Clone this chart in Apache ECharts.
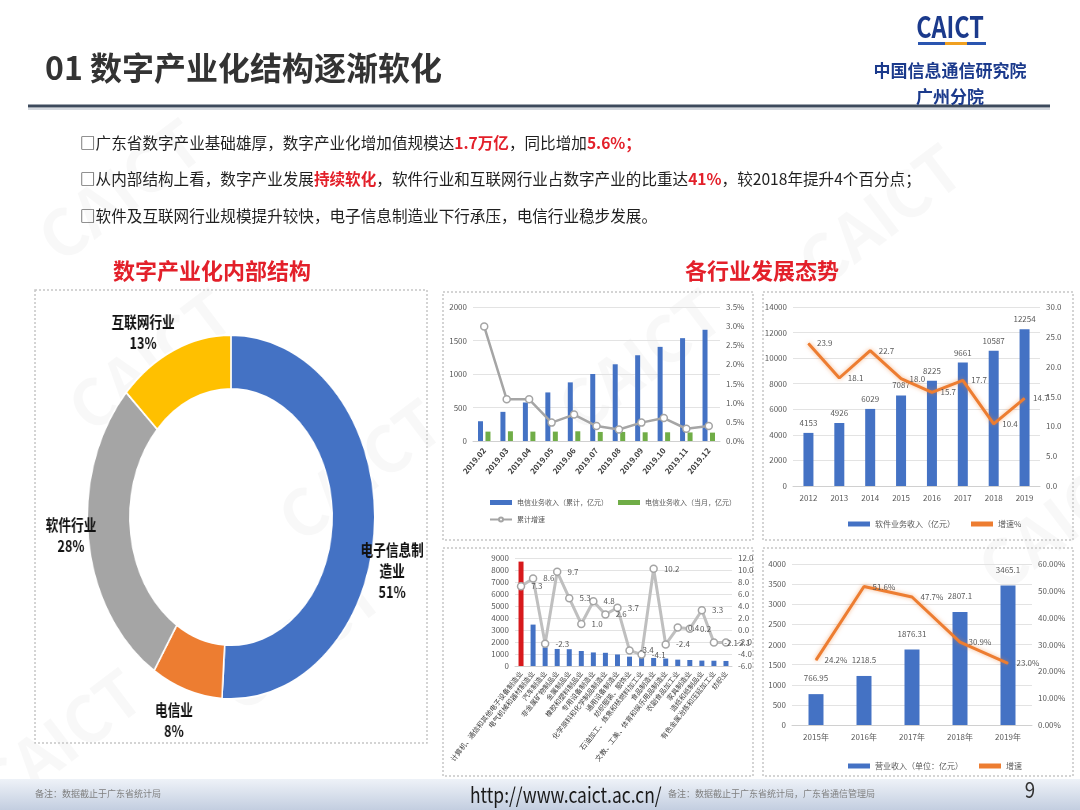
<!DOCTYPE html>
<html>
<head>
<meta charset="utf-8">
<title>01 数字产业化结构逐渐软化</title>
<script src="https://cdn.jsdelivr.net/npm/echarts@6/dist/echarts.min.js"></script>
<style>
  body { margin: 0; background: #fff; }
  #wrap { position: relative; width: 1080px; height: 810px; overflow: hidden; background: #fff; }
  #main { position: absolute; left: 0; top: 0; width: 1080px; height: 810px; }
  /* 原图里圆环被横向压扁了，这里用 scaleX 还原 */
  #pie { position: absolute; left: -69px; top: 290px; width: 600px; height: 452px; transform: scaleX(0.79); transform-origin: 50% 50%; }
</style>
</head>
<body>
<div id="wrap">
  <div id="main"></div>
  <div id="pie"></div>
</div>
<script>
var FONT = '"Noto Sans CJK SC", "Noto Sans", sans-serif'

// 数字产业化内部结构
var donutNames = ['电子信息制造业', '电信业', '软件行业', '互联网行业']
var donutLabels = ['电子信息制\n造业', '电信业', '软件行业', '互联网行业']
var donutValues = [51, 8, 28, 13]
var donutColors = ['#4472C4', '#ED7D31', '#A5A5A5', '#FFC000']

// 电信业务
var telMonths = ['2019.02', '2019.03', '2019.04', '2019.05', '2019.06', '2019.07', '2019.08', '2019.09', '2019.10', '2019.11', '2019.12']
var telCumulative = [295, 435, 575, 725, 875, 1000, 1145, 1280, 1405, 1535, 1660]
var telMonthly = [140, 145, 140, 140, 145, 135, 135, 130, 130, 128, 125]
var telGrowth = [2.99, 1.09, 1.09, 0.48, 0.69, 0.39, 0.30, 0.48, 0.60, 0.32, 0.39]

// 软件业务
var softYears = ['2012', '2013', '2014', '2015', '2016', '2017', '2018', '2019']
var softRevenue = [4153, 4926, 6029, 7087, 8225, 9661, 10587, 12254]
var softGrowth = [23.9, 18.1, 22.7, 18.0, 15.7, 17.7, 10.4, 14.7]

// 制造业分行业
var mfgSectors = ['计算机、通信和其他电子设备制造业', '电气机械和器材制造业', '汽车制造业', '非金属矿物制品业', '金属制品业', '橡胶和塑料制品业', '专用设备制造业', '化学原料和化学制品制造业', '通用设备制造业', '纺织服装、服饰业', '石油加工、炼焦和核燃料加工业', '食品制造业', '文教、工美、体育和娱乐用品制造业', '农副食品加工业', '家具制造业', '造纸和纸制品业', '有色金属冶炼和压延加工业', '纺织业']
var mfgOutput = [8700, 3450, 1560, 1420, 1400, 1250, 1130, 1100, 960, 780, 700, 670, 620, 530, 500, 450, 440, 420]
var mfgGrowth = [7.3, 8.6, -2.3, 9.7, 5.3, 1.0, 4.8, 2.6, 3.7, -3.4, -4.1, 10.2, -2.4, 0.4, 0.2, 3.3, -2.1, -2.1]

// 互联网业务
var netYears = ['2015年', '2016年', '2017年', '2018年', '2019年']
var netRevenue = [766.95, 1218.5, 1876.31, 2807.1, 3465.1]
var netGrowth = [24.2, 51.6, 47.7, 30.9, 23.0]

var splitGray = { lineStyle: { color: '#e3e3e3' } }

function txt(x, y, text, font, fill, align, extra) {
  var el = {
    type: 'text', x: x, y: y, silent: true,
    style: { text: text, font: font, fill: fill, textAlign: align || 'left', textVerticalAlign: 'middle' }
  }
  if (extra) { for (var k in extra) el[k] = extra[k] }
  return el
}

function box(x, y, w, h) {
  return { type: 'rect', silent: true, shape: { x: x, y: y, width: w, height: h },
    style: { fill: 'none', stroke: '#c6c6c6', lineWidth: 1.5, lineDash: [2, 2] } }
}

function catAxis(grid, data, extraLabel) {
  var label = { color: '#595959', fontSize: 8, fontFamily: FONT, interval: 0 }
  if (extraLabel) { for (var k in extraLabel) label[k] = extraLabel[k] }
  return {
    type: 'category', gridIndex: grid, data: data,
    axisTick: { show: false },
    axisLine: { lineStyle: { color: '#d0d0d0' } },
    axisLabel: label
  }
}

function plain(v) { return String(v) }

function valAxis(grid, min, max, step, fmt, right) {
  return {
    type: 'value', gridIndex: grid, min: min, max: max, interval: step,
    position: right ? 'right' : 'left',
    axisLine: { show: false }, axisTick: { show: false },
    splitLine: right ? { show: false } : splitGray,
    axisLabel: { color: '#595959', fontSize: 8, fontFamily: FONT, margin: 6, formatter: fmt || plain }
  }
}

var graphics = []
// 水印
var marks = [[120, 190], [880, 215], [150, 360], [360, 470], [300, 640], [60, 740], [640, 360], [1060, 520]]
marks.forEach(function (m) {
  graphics.push(txt(m[0], m[1], 'CAICT', 'bold 64px ' + FONT, 'rgba(0,0,0,0.028)', 'center', { rotation: 0.65 }))
})

// 标题栏
graphics.push(txt(45, 68, '01 数字产业化结构逐渐软化', 'bold 32px ' + FONT, '#333333'))
graphics.push({ type: 'line', silent: true, shape: { x1: 28, y1: 106, x2: 1050, y2: 106 }, style: { stroke: '#3d4a5c', lineWidth: 3 } })
graphics.push({ type: 'line', silent: true, shape: { x1: 28, y1: 109, x2: 1050, y2: 109 }, style: { stroke: '#d5d9df', lineWidth: 2 } })
graphics.push(txt(950, 27, 'CAICT', 'bold 30px ' + FONT, '#1b3a8c', 'center', { scaleX: 0.78 }))
graphics.push({ type: 'rect', silent: true, shape: { x: 918, y: 42, width: 68, height: 3 }, style: { fill: '#2a55b0' } })
graphics.push({ type: 'rect', silent: true, shape: { x: 945, y: 42, width: 22, height: 3 }, style: { fill: '#f0a020' } })
graphics.push(txt(950, 71, '中国信息通信研究院', 'bold 17px ' + FONT, '#1b3a8c', 'center'))
graphics.push(txt(950, 97, '广州分院', 'bold 17px ' + FONT, '#1b3a8c', 'center'))

// 要点
var nStyle = { fontSize: 15.6, fontFamily: FONT, fill: '#1f1f1f' }
var rStyle = { fontSize: 15.6, fontFamily: FONT, fill: '#e3202a', fontWeight: 'bold' }
var bullets = [
  '{n|□广东省数字产业基础雄厚，数字产业化增加值规模达}{r|1.7万亿}{n|，同比增加}{r|5.6%；}',
  '{n|□从内部结构上看，数字产业发展}{r|持续软化}{n|，软件行业和互联网行业占数字产业的比重达}{r|41%}{n|，较2018年提升4个百分点；}',
  '{n|□软件及互联网行业规模提升较快，电子信息制造业下行承压，电信行业稳步发展。}'
]
bullets.forEach(function (b, i) {
  graphics.push({ type: 'text', x: 80, y: 143 + i * 36.5, silent: true,
    style: { text: b, textVerticalAlign: 'middle', rich: { n: nStyle, r: rStyle } } })
})

// 小标题
graphics.push(txt(212, 271, '数字产业化内部结构', 'bold 22px ' + FONT, '#e3202a', 'center'))
graphics.push(txt(762, 271, '各行业发展态势', 'bold 22px ' + FONT, '#e3202a', 'center'))

// 面板虚线框
graphics.push(box(35, 290, 392, 453))
graphics.push(box(443, 292, 310, 248))
graphics.push(box(763, 292, 310, 248))
graphics.push(box(443, 548, 310, 228))
graphics.push(box(763, 548, 310, 228))

// 页脚
graphics.push({ type: 'rect', silent: true, shape: { x: 0, y: 779, width: 1080, height: 31 },
  style: { fill: new echarts.graphic.LinearGradient(0, 0, 0, 1, [{ offset: 0, color: '#eef2f8' }, { offset: 1, color: '#c3cee0' }]) } })
graphics.push(txt(35, 794, '备注：数据截止于广东省统计局', '9px ' + FONT, '#7f7f7f'))
graphics.push(txt(470, 795, 'http://www.caict.ac.cn/', '21px ' + FONT, '#1a1a1a', 'left', { scaleX: 0.83 }))
graphics.push(txt(668, 794, '备注：数据截止于广东省统计局，广东省通信管理局', '9px ' + FONT, '#7f7f7f'))
graphics.push(txt(1030, 790, '9', '22px ' + FONT, '#333333', 'center', { scaleX: 0.85 }))

var mfgBars = mfgOutput.map(function (v, i) {
  return i === 0 ? { value: v, itemStyle: { color: '#d7191c' } } : v
})

var lineGlow = { width: 3, color: '#ED7D31', shadowBlur: 4, shadowColor: 'rgba(237,125,49,0.55)' }

var option = {
  animation: false,
  textStyle: { fontFamily: FONT },
  graphic: graphics,
  grid: [
    { left: 473, top: 307, width: 247, height: 134 },
    { left: 793, top: 307, width: 247, height: 179 },
    { left: 515, top: 558, width: 217, height: 108 },
    { left: 792, top: 564, width: 240, height: 161 }
  ],
  legend: [
    {
      left: 484, top: 494, width: 255, itemWidth: 22, itemHeight: 5, itemGap: 10,
      textStyle: { fontSize: 7, color: '#595959' },
      data: [
        { name: '电信业务收入（累计，亿元）', icon: 'rect' },
        { name: '电信业务收入（当月，亿元）', icon: 'rect' },
        '累计增速'
      ]
    },
    {
      left: 843, top: 515, itemWidth: 22, itemHeight: 5, itemGap: 16,
      textStyle: { fontSize: 8, color: '#595959' },
      data: [{ name: '软件业务收入（亿元）', icon: 'rect' }, { name: '增速%', icon: 'rect' }]
    },
    {
      left: 843, top: 757, itemWidth: 22, itemHeight: 5, itemGap: 16,
      textStyle: { fontSize: 8, color: '#595959' },
      data: [{ name: '营业收入（单位：亿元）', icon: 'rect' }, { name: '增速', icon: 'rect' }]
    }
  ],
  xAxis: [
    catAxis(0, telMonths, { rotate: 50, fontWeight: 'bold', color: '#404040' }),
    catAxis(1, softYears),
    catAxis(2, mfgSectors, { rotate: 52, fontSize: 7, color: '#404040', margin: 6 }),
    catAxis(3, netYears)
  ],
  yAxis: [
    valAxis(0, 0, 2000, 500),
    valAxis(0, 0, 3.5, 0.5, function (v) { return v.toFixed(1) + '%' }, true),
    valAxis(1, 0, 14000, 2000),
    valAxis(1, 0, 30, 5, function (v) { return v.toFixed(1) }, true),
    valAxis(2, 0, 9000, 1000),
    valAxis(2, -6, 12, 2, function (v) { return v.toFixed(1) }, true),
    valAxis(3, 0, 4000, 500),
    valAxis(3, 0, 60, 10, function (v) { return v.toFixed(2) + '%' }, true)
  ],
  series: [
    { name: '电信业务收入（累计，亿元）', type: 'bar', xAxisIndex: 0, yAxisIndex: 0, barWidth: 5, barGap: '50%',
      itemStyle: { color: '#4472C4' }, data: telCumulative },
    { name: '电信业务收入（当月，亿元）', type: 'bar', xAxisIndex: 0, yAxisIndex: 0, barWidth: 5,
      itemStyle: { color: '#70AD47' }, data: telMonthly },
    { name: '累计增速', type: 'line', xAxisIndex: 0, yAxisIndex: 1, symbol: 'circle', symbolSize: 7,
      lineStyle: { color: '#A5A5A5', width: 2.5 },
      itemStyle: { color: '#fff', borderColor: '#A5A5A5', borderWidth: 1.5 },
      data: telGrowth },

    { name: '软件业务收入（亿元）', type: 'bar', xAxisIndex: 1, yAxisIndex: 2, barWidth: 10,
      itemStyle: { color: '#4472C4' },
      label: { show: true, position: 'top', distance: 6, fontSize: 8, color: '#595959' },
      data: softRevenue },
    { name: '增速%', type: 'line', xAxisIndex: 1, yAxisIndex: 3, symbol: 'circle', symbolSize: 1,
      lineStyle: lineGlow, itemStyle: { color: '#ED7D31' },
      label: { show: true, position: 'right', distance: 8, fontSize: 8, color: '#595959',
        formatter: function (p) { return p.value.toFixed(1) } },
      data: softGrowth },

    { name: '制造业增加值', type: 'bar', xAxisIndex: 2, yAxisIndex: 4, barWidth: 5,
      itemStyle: { color: '#4472C4' }, data: mfgBars },
    { name: '制造业增速', type: 'line', xAxisIndex: 2, yAxisIndex: 5, symbol: 'circle', symbolSize: 7,
      lineStyle: { color: '#BFBFBF', width: 3 },
      itemStyle: { color: '#fff', borderColor: '#A5A5A5', borderWidth: 1.5 },
      label: { show: true, position: 'right', distance: 6, fontSize: 8, color: '#595959',
        formatter: function (p) { return p.value.toFixed(1) } },
      data: mfgGrowth },

    { name: '营业收入（单位：亿元）', type: 'bar', xAxisIndex: 3, yAxisIndex: 6, barWidth: 15,
      itemStyle: { color: '#4472C4' },
      label: { show: true, position: 'top', distance: 12, fontSize: 8, color: '#595959' },
      data: netRevenue },
    { name: '增速', type: 'line', xAxisIndex: 3, yAxisIndex: 7, symbol: 'circle', symbolSize: 1,
      lineStyle: lineGlow, itemStyle: { color: '#ED7D31' },
      label: { show: true, position: 'right', distance: 8, fontSize: 8, color: '#595959',
        formatter: function (p) { return p.value.toFixed(1) + '%' } },
      data: netGrowth }
  ]
}

var mainChart = echarts.init(document.getElementById('main'))
mainChart.setOption(option)

// 圆环图，标签按原图微调位置
var labelShift = [[-23, 48], [13, 30], [15, -4], [6, -18]]
var pieChart = echarts.init(document.getElementById('pie'))
pieChart.setOption({
  animation: false,
  series: [{
    type: 'pie',
    center: ['50%', 227],
    radius: [128, 182],
    startAngle: 90,
    clockwise: true,
    avoidLabelOverlap: false,
    itemStyle: { borderColor: '#fff', borderWidth: 2 },
    label: {
      show: true, position: 'outside',
      formatter: function (p) {
        return donutLabels[p.dataIndex].split('\n').map(function (s) { return '{a|' + s + '}' }).join('\n') +
          '\n{a|' + p.value + '%}'
      },
      rich: { a: { fontSize: 16, fontWeight: 'bold', lineHeight: 21, color: '#111', fontFamily: FONT, align: 'center' } }
    },
    labelLine: { show: false, length: 0, length2: 0 },
    labelLayout: function (params) {
      var s = labelShift[params.dataIndex]
      return { dx: s[0], dy: s[1] }
    },
    data: donutNames.map(function (n, i) {
      return { name: n, value: donutValues[i], itemStyle: { color: donutColors[i] } }
    })
  }]
})
</script>
</body>
</html>
